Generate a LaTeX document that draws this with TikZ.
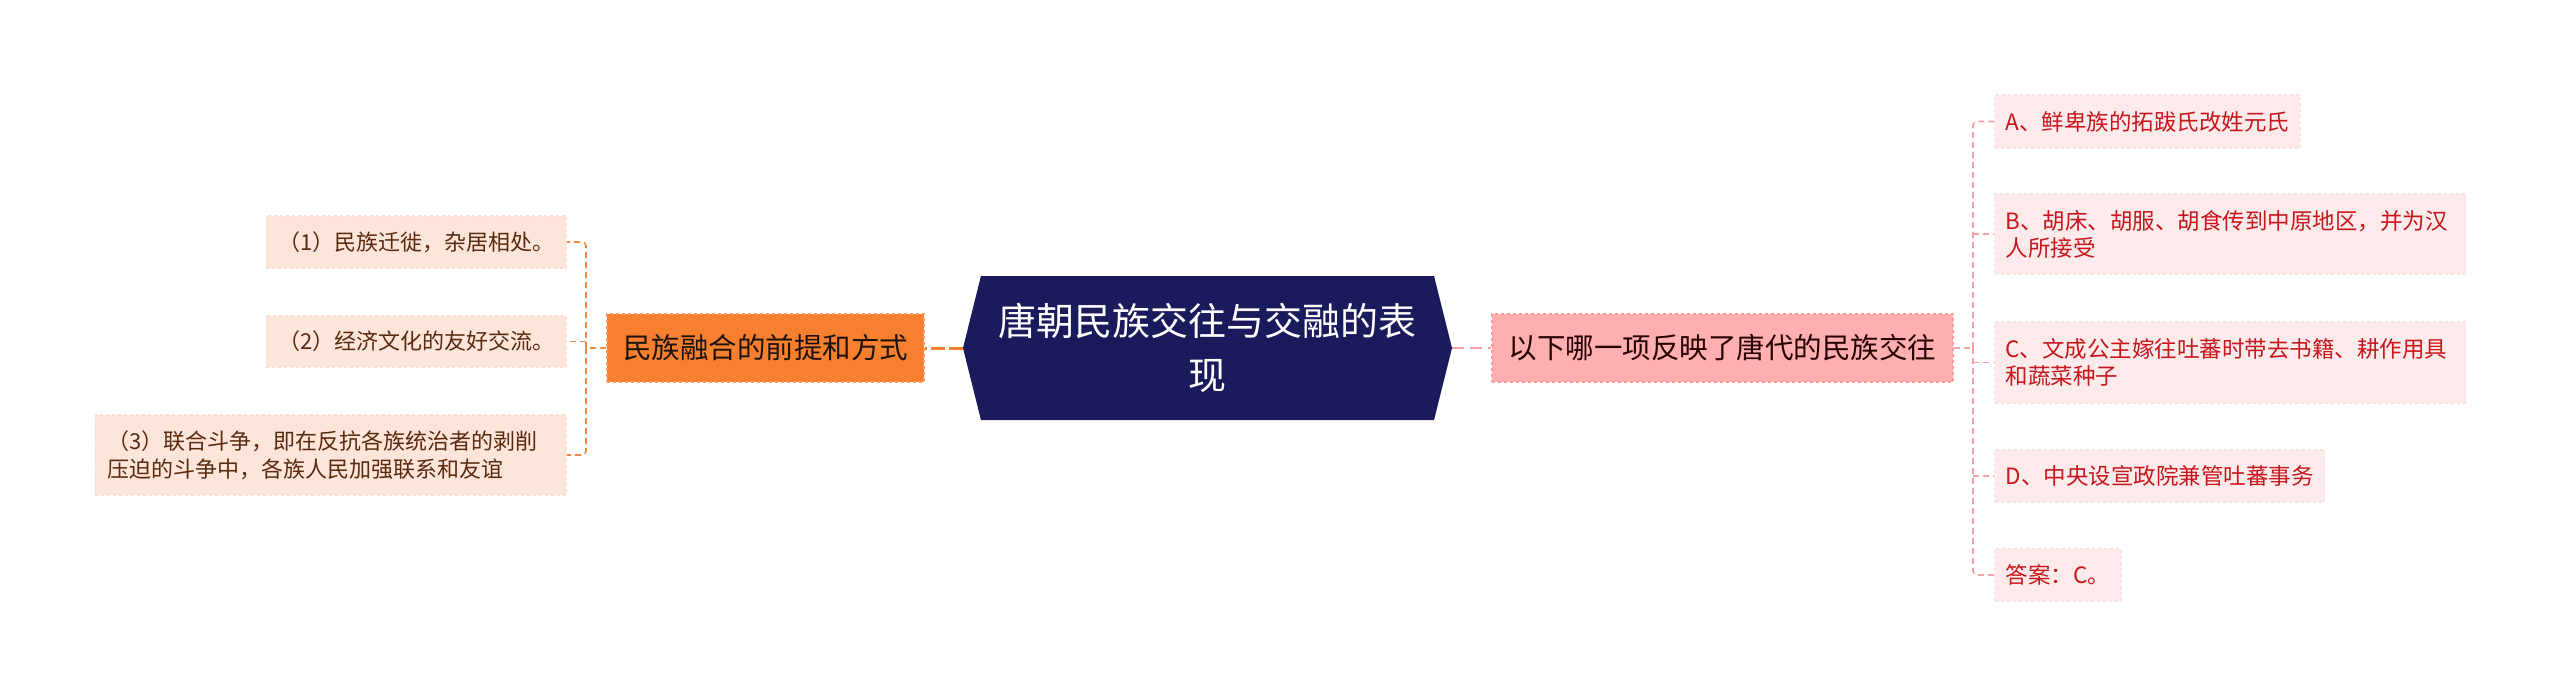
\documentclass[tikz,border=0pt]{standalone}
\usepackage{fontspec}
\usepackage{xcolor}
\usepackage{tikz}
\usetikzlibrary{shapes.symbols}
\newfontfamily\cjk{Noto Sans CJK SC}
\definecolor{navy}{HTML}{1B1A5C}
\definecolor{fuse}{HTML}{F77F30}
\definecolor{fuseedge}{HTML}{F99A5C}
\definecolor{fuseline}{HTML}{EF8A45}
\definecolor{peach}{HTML}{FDE5D9}
\definecolor{peachline}{HTML}{FBDCCD}
\definecolor{brownt}{HTML}{5A2A10}
\definecolor{pinkq}{HTML}{FFAFAF}
\definecolor{pinkedge}{HTML}{F7A0A0}
\definecolor{pinkline}{HTML}{F2A2A2}
\definecolor{blush}{HTML}{FDEBEB}
\definecolor{blushline}{HTML}{FBE0E0}
\definecolor{redt}{HTML}{C8161D}

\tikzset{
 leftitem/.style={fill=peach,draw=peachline,dashed,line width=1.2pt,text=brownt,
   font=\cjk\fontsize{22}{28}\selectfont,inner xsep=12pt,inner ysep=0pt,align=left,anchor=east},
 rightitem/.style={fill=blush,draw=blushline,dashed,line width=1.2pt,text=redt,
   font=\cjk\fontsize{22.5}{27}\selectfont,inner xsep=11pt,inner ysep=0pt,align=left,anchor=west},
 lconn/.style={draw=fuseline,dash pattern=on 6pt off 4pt,line width=1.6pt,rounded corners=4pt},
 rconn/.style={draw=pinkline,dash pattern=on 6pt off 4pt,line width=1.6pt,rounded corners=4pt},
}

\begin{document}
\begin{tikzpicture}[x=1pt,y=-1pt]
 \useasboundingbox (0,0) rectangle (2560,697);

 \node[shape=signal,signal to=west and east,signal pointer angle=152,fill=navy,text=white,
   minimum width=489pt,minimum height=144pt,inner sep=0pt,align=center,
   font=\cjk\fontsize{38}{54}\selectfont] (core) at (1207.5,348) {唐朝民族交往与交融的表\\现};

 % left branch
 \node[fill=fuse,draw=fuseedge,dashed,line width=1.2pt,text={black!85!brown},minimum width=317pt,minimum height=68pt,
   inner sep=0pt,font=\cjk\fontsize{28.5}{34}\selectfont] (fusion) at (765.5,348) {民族融合的前提和方式};
 \node[leftitem,minimum height=52pt] (move) at (567,242) {（1）民族迁徙，杂居相处。};
 \node[leftitem,minimum height=51pt] (trade) at (567,341.5) {（2）经济文化的友好交流。};
 \node[leftitem,minimum height=80pt,text width=447pt] (fight) at (567,455) {（3）联合斗争，即在反抗各族统治者的剥削\\压迫的斗争中，各族人民加强联系和友谊};

 % right branch
 \node[fill=pinkq,draw=pinkedge,dashed,line width=1.2pt,text={black!85!red},minimum width=461pt,minimum height=68pt,
   inner sep=0pt,font=\cjk\fontsize{28.5}{34}\selectfont] (quiz) at (1722.5,348) {以下哪一项反映了唐代的民族交往};
 \node[rightitem,minimum height=53pt] (optA) at (1994,121.5) {A、鲜卑族的拓跋氏改姓元氏};
 \node[rightitem,minimum height=80pt,text width=449pt] (optB) at (1994,234) {B、胡床、胡服、胡食传到中原地区，并为汉\\人所接受};
 \node[rightitem,minimum height=81pt,text width=449pt] (optC) at (1994,362.5) {C、文成公主嫁往吐蕃时带去书籍、耕作用具\\和蔬菜种子};
 \node[rightitem,minimum height=52pt] (optD) at (1994,476) {D、中央设宣政院兼管吐蕃事务};
 \node[rightitem,minimum height=52pt] (answer) at (1994,575) {答案：C。};

 \coordinate (lbar) at (586,348);
 \coordinate (rbar) at (1973,348);

 \draw[draw=fuse,dash pattern=on 14pt off 4pt,line width=3pt] (core.west) -- (fusion.east);
 \draw[draw=pinkline,dash pattern=on 12pt off 6pt,line width=2.4pt] (core.east) -- (quiz.west);

 \draw[lconn] (fusion.west) -- (lbar);
 \draw[lconn] (lbar) |- (move.east);
 \draw[lconn] (lbar |- trade.east) -- (trade.east);
 \draw[lconn] (lbar) |- (fight.east);

 \draw[rconn] (quiz.east) -- (rbar);
 \draw[rconn] (rbar) |- (optA.west);
 \draw[rconn] (rbar |- optB.west) -- (optB.west);
 \draw[rconn] (rbar |- optC.west) -- (optC.west);
 \draw[rconn] (rbar |- optD.west) -- (optD.west);
 \draw[rconn] (rbar) |- (answer.west);
\end{tikzpicture}
\end{document}
